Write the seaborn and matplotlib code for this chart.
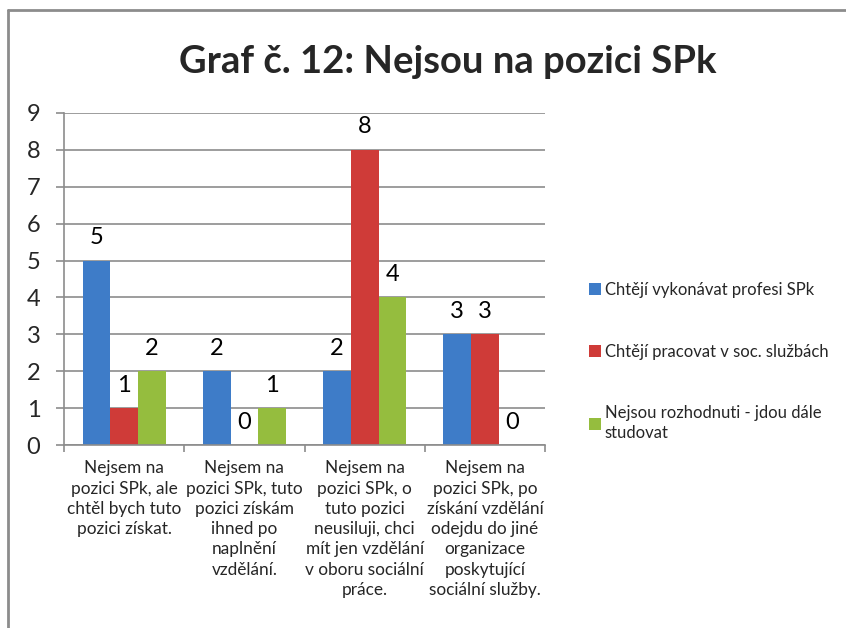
import matplotlib
matplotlib.use("Agg")
import matplotlib.pyplot as plt
import seaborn as sns
import pandas as pd
from matplotlib.lines import Line2D
from matplotlib.patches import Patch

categories = [
    "Nejsem na\npozici SPk, ale\nchtěl bych tuto\npozici získat.",
    "Nejsem na\npozici SPk, tuto\npozici získám\nihned po\nnaplnění\nvzdělání.",
    "Nejsem na\npozici SPk, o\ntuto pozici\nneusiluji, chci\nmít jen vzdělání\nv oboru sociální\npráce.",
    "Nejsem na\npozici SPk, po\nzískání vzdělání\nodejdu do jiné\norganizace\nposkytující\nsociální služby.",
]
series = [
    "Chtějí vykonávat profesi SPk",
    "Chtějí pracovat v soc. službách",
    "Nejsou rozhodnuti - jdou dále\nstudovat",
]
values_blue = [5, 2, 2, 3]
values_red = [1, 0, 8, 3]
values_green = [2, 1, 4, 0]
colors = ["#3E7CC8", "#CF3B38", "#95BD3E"]
title = "Graf č. 12: Nejsou na pozici SPk"

rows = []
for s, vals in zip(series, [values_blue, values_red, values_green]):
    for c, v in zip(categories, vals):
        rows.append({"cat": c, "series": s, "value": v})
df = pd.DataFrame(rows)

sns.set_theme(style="white")
plt.rcParams["font.family"] = ["Lato", "DejaVu Sans"]

fig = plt.figure(figsize=(8.46, 6.28), dpi=100)
ax = fig.add_axes([0.0757, 0.2914, 0.5686, 0.5287])

sns.barplot(data=df, x="cat", y="value", hue="series", palette=colors,
            width=0.69, ax=ax, legend=False, edgecolor="none", saturation=1)

for cont in ax.containers:
    ax.bar_label(cont, fmt="%d", padding=9, fontsize=17, color="black")

ax.set_ylim(0, 9)
ax.set_xlim(-0.5, 3.5)
ax.set_yticks(range(0, 10))
ax.yaxis.grid(True, color="#8c8c8c", linewidth=1.2)
ax.set_axisbelow(True)
ax.set_xlabel("")
ax.set_ylabel("")
ax.tick_params(axis="y", labelsize=17, length=6, width=1.2, color="#8c8c8c", left=True, pad=11)
ax.set_xticks(range(4))
ax.set_xticklabels(categories, fontsize=12.4, linespacing=1.33)
ax.tick_params(axis="x", length=0, pad=11)
ax.set_xticks([-0.5, 0.5, 1.5, 2.5, 3.5], minor=True)
ax.tick_params(axis="x", which="minor", length=5, width=1.2, color="#8c8c8c", bottom=True)
for side in ["top", "right"]:
    ax.spines[side].set_visible(False)
for side in ["left", "bottom"]:
    ax.spines[side].set_color("#8c8c8c")
    ax.spines[side].set_linewidth(1.2)

handles = [Patch(facecolor=c, edgecolor="none") for c in colors]
leg = fig.legend(handles, series, loc="upper left", bbox_to_anchor=(0.688, 0.562),
                 frameon=False, fontsize=12, labelspacing=2.75, handlelength=0.75,
                 handleheight=0.75, handletextpad=0.2, borderaxespad=0)
for t in leg.get_texts():
    t.set_linespacing(1.3)

fig.text(0.529, 0.902, title, ha="center", va="center", fontsize=27.5, fontweight="bold")

# outer chart frame (only top and left edges fall inside the image)
fig.add_artist(Line2D([8 / 846, 8 / 846], [0, 1 - 10 / 628], transform=fig.transFigure,
                      color="#8c8c8c", linewidth=2))
fig.add_artist(Line2D([8 / 846, 1], [1 - 10 / 628, 1 - 10 / 628], transform=fig.transFigure,
                      color="#8c8c8c", linewidth=2))

fig.savefig("out.png", dpi=100)
